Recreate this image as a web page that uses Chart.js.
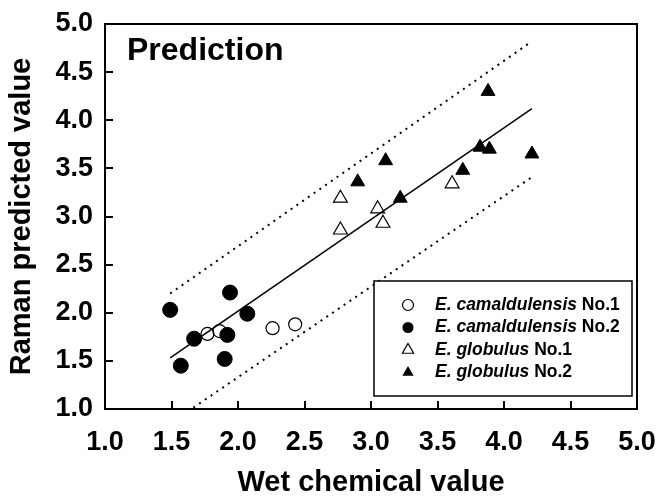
<!DOCTYPE html>
<html>
<head>
<meta charset="utf-8">
<script src="https://cdn.jsdelivr.net/npm/chart.js@4.4.1/dist/chart.umd.min.js"></script>
<style>
html, body { margin: 0; padding: 0; background: #fff; }
#wrap { width: 658px; height: 500px; }
</style>
</head>
<body>
<div id="wrap"><canvas id="myChart" width="658" height="500"></canvas></div>
<script>
// dane
var tickLabels = ['1.0', '1.5', '2.0', '2.5', '3.0', '3.5', '4.0', '4.5', '5.0'];

var camA_x = [1.77, 1.86, 2.26, 2.43];
var camA_y = [1.78, 1.81, 1.84, 1.88];

var camB_x = [1.49, 1.57, 1.67, 1.90, 1.92, 1.94, 2.07];
var camB_y = [2.03, 1.45, 1.73, 1.52, 1.77, 2.21, 1.99];

var globA_x = [2.77, 2.77, 3.05, 3.09, 3.61];
var globA_y = [3.19, 2.86, 3.08, 2.93, 3.34];

var globB_x = [2.90, 3.11, 3.22, 3.69, 3.82, 3.89, 3.88, 4.21];
var globB_y = [3.36, 3.58, 3.19, 3.48, 3.72, 3.70, 4.30, 3.65];

var fitX = [1.49, 4.21];
var fitY = [1.53, 4.12];
var upperY = [2.20, 4.82];
var lowerY = [0.85, 3.41];

var legendItalic = ['E. camaldulensis', 'E. camaldulensis', 'E. globulus', 'E. globulus'];
var legendSuffix = ['No.1', 'No.2', 'No.1', 'No.2'];

var FONT = '"Liberation Sans", Arial, Helvetica, sans-serif';

function pts(xs, ys) {
    return xs.map(function (x, i) {
        return { x: x, y: ys[i] };
    });
}

// ramka, napis "Prediction" i legenda
var extras = {
    id: 'extras',
    afterDraw: function (chart) {
        var ctx = chart.ctx;
        var a = chart.chartArea;
        ctx.save();
        ctx.strokeStyle = '#000';
        ctx.lineWidth = 2;
        ctx.strokeRect(a.left, a.top, a.right - a.left, a.bottom - a.top);

        ctx.fillStyle = '#000';
        ctx.font = 'bold 32px ' + FONT;
        ctx.textBaseline = 'alphabetic';
        ctx.textAlign = 'left';
        ctx.fillText('Prediction', 127, 60);

        // legenda
        var bx = 374, by = 281, bw = 258, bh = 115;
        ctx.fillStyle = '#fff';
        ctx.fillRect(bx, by, bw, bh);
        ctx.lineWidth = 1.5;
        ctx.strokeRect(bx, by, bw, bh);

        var styles = ['openCircle', 'circle', 'openTriangle', 'triangle'];
        for (var i = 0; i < 4; i++) {
            var y = 305 + i * 22.5;
            var mx = 408;
            ctx.beginPath();
            if (styles[i].indexOf('ircle') > -1) {
                ctx.arc(mx, y, 5.5, 0, Math.PI * 2);
            } else {
                var r = 6.5;
                ctx.moveTo(mx, y - r);
                ctx.lineTo(mx + r * 0.866, y + r * 0.5);
                ctx.lineTo(mx - r * 0.866, y + r * 0.5);
                ctx.closePath();
            }
            ctx.lineWidth = 1.2;
            if (styles[i].indexOf('open') === 0) {
                ctx.strokeStyle = '#000';
                ctx.stroke();
            } else {
                ctx.fillStyle = '#000';
                ctx.fill();
            }
            ctx.fillStyle = '#000';
            ctx.textBaseline = 'middle';
            ctx.font = 'italic bold 17.5px ' + FONT;
            ctx.fillText(legendItalic[i], 435, y);
            var w = ctx.measureText(legendItalic[i] + ' ').width;
            ctx.font = 'bold 17.5px ' + FONT;
            ctx.fillText(legendSuffix[i], 435 + w, y);
        }
        ctx.restore();
    }
};

var tickFont = { family: FONT, size: 27, weight: 'bold' };
var titleFont = { family: FONT, size: 29, weight: 'bold' };

var ctx = document.getElementById('myChart').getContext('2d');

var chart = new Chart(ctx, {
    type: 'scatter',
    data: {
        datasets: [{
            label: 'E. camaldulensis No.1',
            data: pts(camA_x, camA_y),
            pointStyle: 'circle',
            pointRadius: 6.5,
            backgroundColor: 'rgba(0,0,0,0)',
            borderColor: '#000',
            borderWidth: 1.2
        },
        {
            label: 'E. camaldulensis No.2',
            data: pts(camB_x, camB_y),
            pointStyle: 'circle',
            pointRadius: 7.5,
            backgroundColor: '#000',
            borderColor: '#000',
            borderWidth: 1
        },
        {
            label: 'E. globulus No.1',
            data: pts(globA_x, globA_y),
            pointStyle: 'triangle',
            pointRadius: 8,
            backgroundColor: 'rgba(0,0,0,0)',
            borderColor: '#000',
            borderWidth: 1.2
        },
        {
            label: 'E. globulus No.2',
            data: pts(globB_x, globB_y),
            pointStyle: 'triangle',
            pointRadius: 8,
            backgroundColor: '#000',
            borderColor: '#000',
            borderWidth: 1
        },
        {
            label: 'fit',
            type: 'line',
            data: pts(fitX, fitY),
            borderColor: '#000',
            borderWidth: 1.5,
            pointRadius: 0
        },
        {
            label: 'upper',
            type: 'line',
            data: pts(fitX, upperY),
            borderColor: '#000',
            borderWidth: 2,
            borderDash: [2, 5],
            pointRadius: 0
        },
        {
            label: 'lower',
            type: 'line',
            data: pts(fitX, lowerY),
            borderColor: '#000',
            borderWidth: 2,
            borderDash: [2, 5],
            pointRadius: 0
        }]
    },
    options: {
        responsive: false,
        animation: false,
        devicePixelRatio: 1,
        layout: { padding: { left: 0, top: 24, right: 21, bottom: 0 } },
        plugins: {
            legend: { display: false },
            tooltip: { enabled: false }
        },
        scales: {
            x: {
                type: 'linear',
                min: 1,
                max: 5,
                ticks: {
                    stepSize: 0.5,
                    autoSkip: false,
                    maxRotation: 0,
                    padding: 25,
                    color: '#000',
                    font: tickFont,
                    callback: function (v) {
                        return tickLabels[Math.round((v - 1) / 0.5)];
                    }
                },
                grid: {
                    drawOnChartArea: false,
                    drawTicks: true,
                    tickLength: -8,
                    color: '#000',
                    lineWidth: 2
                },
                border: { display: false },
                title: {
                    display: true,
                    text: 'Wet chemical value',
                    color: '#000',
                    font: titleFont,
                    padding: { top: 0, bottom: 0 }
                },
                afterFit: function (s) {
                    s.height = 91;
                    s.paddingLeft = 0;
                    s.paddingRight = 0;
                }
            },
            y: {
                type: 'linear',
                min: 1,
                max: 5,
                ticks: {
                    stepSize: 0.5,
                    autoSkip: false,
                    padding: 20,
                    color: '#000',
                    font: tickFont,
                    callback: function (v) {
                        return tickLabels[Math.round((v - 1) / 0.5)];
                    }
                },
                grid: {
                    drawOnChartArea: false,
                    drawTicks: true,
                    tickLength: -8,
                    color: '#000',
                    lineWidth: 2
                },
                border: { display: false },
                title: {
                    display: true,
                    text: 'Raman predicted value',
                    color: '#000',
                    font: titleFont,
                    padding: { top: 5, bottom: 0 }
                },
                afterFit: function (s) {
                    s.width = 105;
                    s.paddingTop = 0;
                    s.paddingBottom = 0;
                }
            }
        }
    },
    plugins: [extras]
});
</script>
</body>
</html>
